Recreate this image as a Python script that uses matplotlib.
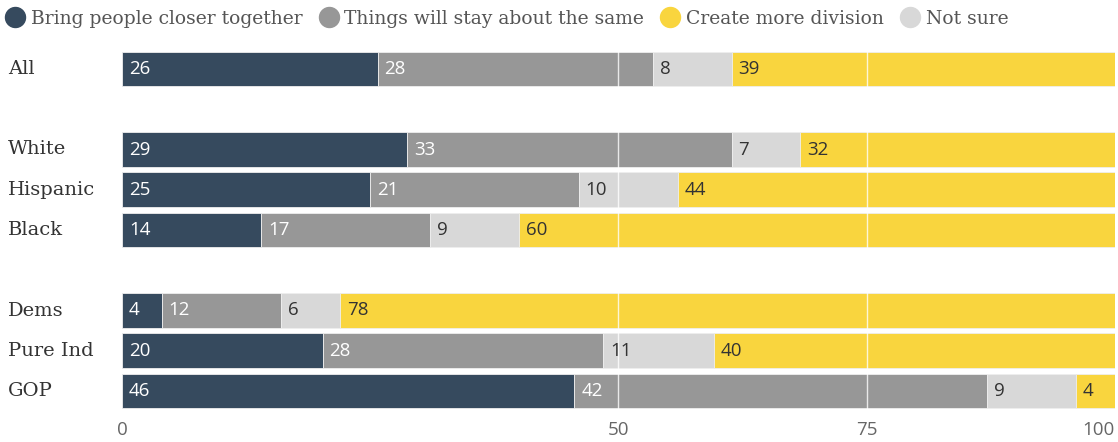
import matplotlib
matplotlib.use("Agg")
import matplotlib.pyplot as plt
from matplotlib.lines import Line2D
import numpy as np

categories = ["All", "White", "Hispanic", "Black", "Dems", "Pure Ind", "GOP"]
row_pos = [0, 2, 3, 4, 6, 7, 8]
closer = [26, 29, 25, 14, 4, 20, 46]
same = [28, 33, 21, 17, 12, 28, 42]
not_sure = [8, 7, 10, 9, 6, 11, 9]
division = [39, 32, 44, 60, 78, 40, 4]

series_names = ["Bring people closer together", "Things will stay about the same",
                "Not sure", "Create more division"]
series_vals = [closer, same, not_sure, division]
colors = ["#364a5e", "#979797", "#d8d8d8", "#f9d53e"]
text_colors = ["white", "white", "#333333", "#333333"]
legend_order = [0, 1, 3, 2]
xticks = [0, 50, 75, 100]

fig = plt.figure(figsize=(11.18, 4.42), dpi=100)
ax = fig.add_axes([0.1091, 0.0699, 0.9973 - 0.1091, 0.8894 - 0.0699])

data = np.array(series_vals, dtype=float)
totals = data.sum(axis=0)
norm = data / totals * 100
left = np.zeros(len(categories))
for i, name in enumerate(series_names):
    ax.barh(row_pos, norm[i], left=left, height=0.86, color=colors[i],
            edgecolor="#eeeeee", linewidth=0.6, zorder=2)
    for j, v in enumerate(series_vals[i]):
        ax.text(left[j] + 0.7, row_pos[j], str(v), va="center", ha="left",
                color=text_colors[i], fontsize=13.5, family="Open Sans", zorder=4)
    left += norm[i]

for xv in [50, 75]:
    ax.axvline(xv, color="white", lw=1, alpha=0.8, zorder=3)

ax.set_xlim(0, 100)
ax.set_ylim(8.5, -0.5)
ax.set_xticks(xticks)
ax.set_xticklabels([str(t) for t in xticks], family="Open Sans",
                   fontsize=13.5, color="#666666")
ax.get_xticklabels()[-1].set_horizontalalignment("right")
ax.tick_params(axis="x", length=0, pad=7)
ax.set_yticks([])
for s in ax.spines.values():
    s.set_visible(False)

for j, c in enumerate(categories):
    fig.text(8 / 1118, 1 - (69 + 40.25 * row_pos[j]) / 442, c, va="center", ha="left",
             family="DejaVu Serif", fontsize=14, color="#333333")

handles = [Line2D([], [], marker="o", linestyle="none", markersize=14.4,
                  markerfacecolor=colors[k], markeredgecolor=colors[k]) for k in legend_order]
labels = [series_names[k] for k in legend_order]
leg = fig.legend(handles, labels, loc="center left", bbox_to_anchor=(5 / 1118, 1 - 19 / 442),
                 ncol=4, frameon=False, handletextpad=0.27, columnspacing=0.86,
                 handlelength=1.1, borderaxespad=0, borderpad=0,
                 prop={"family": "DejaVu Serif", "size": 13.5})
for t in leg.get_texts():
    t.set_color("#555555")

fig.savefig("out.png", dpi=100)
